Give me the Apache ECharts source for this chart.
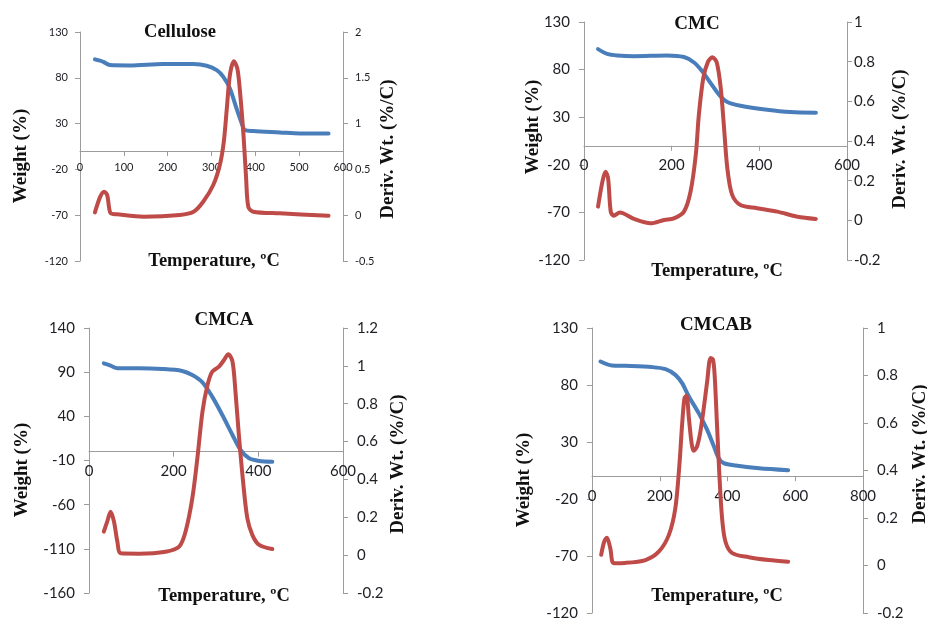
<!DOCTYPE html>
<html>
<head>
<meta charset="utf-8">
<script src="https://cdn.jsdelivr.net/npm/echarts@6/dist/echarts.min.js"></script>
<style>
html,body{margin:0;padding:0;background:#fff;}
#chart{width:927px;height:619px;}
</style>
</head>
<body>
<div id="chart"></div>
<script>
// ---------------- DATA ----------------
const panelTitles = ['Cellulose', 'CMC', 'CMCA', 'CMCAB'];
const xTitle = 'Temperature, ºC';
const yLeftTitle = 'Weight (%)';
const yRightTitle = 'Deriv. Wt. (%/C)';

// Cellulose
const celluloseWeightT = [34, 53, 68, 114, 190, 259, 289, 312, 327, 342, 357, 369, 376, 395, 456, 502, 567];
const celluloseWeight  = [100.1, 97.5, 93.9, 93.5, 95, 95, 93.2, 88.4, 81.1, 68.4, 46.6, 30.2, 22.9, 21.8, 20.4, 19.3, 19.3];
const celluloseDerivT  = [34, 46, 55, 62, 70, 84, 145, 228, 259, 281, 304, 319, 328, 335, 342, 351, 359, 365, 373, 379, 384, 395, 456, 567];
const celluloseDeriv   = [0.03, 0.20, 0.257, 0.22, 0.02, 0.01, -0.016, 0.003, 0.038, 0.147, 0.33, 0.548, 0.80, 1.167, 1.53, 1.68, 1.60, 1.35, 0.875, 0.40, 0.09, 0.038, 0.02, -0.006];

// CMC
const cmcWeightT = [32, 53, 76, 114, 190, 228, 251, 270, 289, 308, 327, 357, 418, 471, 529];
const cmcWeight  = [101.5, 96.6, 94.9, 94.1, 94.9, 93.2, 87.5, 78.1, 65.8, 53.6, 45.9, 42, 37.8, 35.4, 34.7];
const cmcDerivT  = [32, 42, 49, 55, 61, 68, 82, 114, 152, 183, 205, 228, 243, 255, 262, 272, 283, 293, 303, 312, 319, 327, 338, 357, 395, 441, 487, 529];
const cmcDeriv   = [0.069, 0.195, 0.245, 0.211, 0.044, 0.023, 0.040, 0.007, -0.015, 0.002, 0.01, 0.044, 0.144, 0.33, 0.531, 0.716, 0.80, 0.822, 0.795, 0.666, 0.481, 0.262, 0.128, 0.077, 0.061, 0.044, 0.018, 0.007];

// CMCA
const cmcaWeightT = [35, 51, 67, 118, 173, 220, 244, 268, 291, 315, 339, 358, 378, 402, 433];
const cmcaWeight  = [100, 97.4, 94.4, 94.4, 93.6, 91.4, 86.8, 78.5, 62.3, 41.5, 18.9, 1.9, -7.5, -10.5, -11.3];
const cmcaDerivT  = [35, 43, 51, 59, 67, 75, 118, 181, 213, 228, 244, 256, 268, 280, 291, 307, 319, 329, 339, 346, 354, 364, 374, 386, 402, 433];
const cmcaDeriv   = [0.124, 0.177, 0.229, 0.177, 0.071, 0.01, 0.008, 0.018, 0.045, 0.124, 0.30, 0.512, 0.758, 0.899, 0.969, 0.996, 1.031, 1.061, 1.023, 0.863, 0.635, 0.388, 0.195, 0.106, 0.054, 0.032];

// CMCAB
const cmcabWeightT = [25, 59, 98, 177, 217, 246, 266, 286, 315, 340, 360, 374, 389, 424, 493, 579];
const cmcabWeight  = [100.6, 97.1, 96.8, 95.7, 93.9, 88.9, 81.6, 69.9, 55.3, 40.6, 26, 15.8, 11.4, 9.3, 7, 5.3];
const cmcabDerivT  = [27, 36, 44, 54, 64, 98, 158, 197, 227, 246, 258, 266, 273, 279, 286, 294, 300, 310, 320, 330, 340, 350, 357, 362, 369, 376, 384, 394, 414, 463, 522, 579];
const cmcabDeriv   = [0.045, 0.10, 0.117, 0.073, 0.01, 0.011, 0.023, 0.058, 0.129, 0.241, 0.424, 0.593, 0.705, 0.715, 0.621, 0.515, 0.483, 0.501, 0.564, 0.663, 0.775, 0.874, 0.867, 0.803, 0.593, 0.382, 0.199, 0.10, 0.052, 0.035, 0.023, 0.016];

// axis ranges (tick labels)
const xRanges      = [[0, 600, 100], [0, 600, 200], [0, 600, 200], [0, 800, 200]];
const weightRanges = [[-120, 130, 50], [-120, 130, 50], [-160, 140, 50], [-120, 130, 50]];
const derivRanges  = [[-0.5, 2, 0.5], [-0.2, 1, 0.2], [-0.2, 1.2, 0.2], [-0.2, 1, 0.2]];

// ---------------- LAYOUT ----------------
const seriesData = [
  [celluloseWeightT, celluloseWeight, celluloseDerivT, celluloseDeriv],
  [cmcWeightT, cmcWeight, cmcDerivT, cmcDeriv],
  [cmcaWeightT, cmcaWeight, cmcaDerivT, cmcaDeriv],
  [cmcabWeightT, cmcabWeight, cmcabDerivT, cmcabDeriv]
];
const layout = [
  {grid:{left:80, top:32, width:263, height:229}, fs:11, lm:12, rm:12, xm:11,
   title:[180,32,18.5], wl:[21,156], dr:[388,149], tt:[214,261]},
  {grid:{left:584, top:22, width:263, height:238}, fs:15, lm:14, rm:7, xm:12,
   title:[697,24,19], wl:[533,127], dr:[900,139], tt:[717,271]},
  {grid:{left:89, top:328, width:254, height:265}, fs:15, lm:14, rm:14, xm:12,
   title:[224,320,19], wl:[22,470], dr:[398,464], tt:[224,596]},
  {grid:{left:592, top:328, width:271, height:285}, fs:15, lm:14, rm:14, xm:12,
   title:[716,325,19], wl:[524,480], dr:[920,454], tt:[717,596]}
];

const BLUE = '#4a7ebb', RED = '#be4b48', AXIS = '#9c9c9c', LABEL = '#1e1e24';
const zip = (a, b) => a.map((v, i) => [v, b[i]]);

const grids = [], xAxes = [], yAxes = [], series = [], graphics = [];
layout.forEach((L, i) => {
  grids.push(Object.assign({containLabel:false, outerBoundsMode:'none'}, L.grid));
  const lbl = (m) => ({fontFamily:'Lato', fontSize:L.fs, color:LABEL, margin:m, showMinLabel:true, showMaxLabel:true});
  // x axis crosses the weight axis at 0: shift it up from the grid bottom by the scale position of zero
  const wr = weightRanges[i];
  const zeroOffset = -L.grid.height * (0 - wr[0]) / (wr[1] - wr[0]);
  xAxes.push({
    type:'value', gridIndex:i, position:'bottom', offset:zeroOffset,
    min:xRanges[i][0], max:xRanges[i][1], interval:xRanges[i][2],
    axisLine:{show:true, onZero:false, lineStyle:{color:AXIS, width:1}},
    axisTick:{show:true, inside:false, length:5, lineStyle:{color:AXIS}},
    axisLabel:lbl(L.xm), splitLine:{show:false}
  });
  yAxes.push({
    type:'value', gridIndex:i, position:'left', min:wr[0], max:wr[1], interval:wr[2],
    axisLine:{show:true, onZero:false, lineStyle:{color:AXIS, width:1}},
    axisTick:{show:true, inside:false, length:5, lineStyle:{color:AXIS}},
    axisLabel:lbl(L.lm), splitLine:{show:false}
  });
  yAxes.push({
    type:'value', gridIndex:i, position:'right', min:derivRanges[i][0], max:derivRanges[i][1], interval:derivRanges[i][2],
    axisLine:{show:true, onZero:false, lineStyle:{color:AXIS, width:1}},
    axisTick:{show:true, inside:false, length:5, lineStyle:{color:AXIS}},
    axisLabel:lbl(L.rm), splitLine:{show:false}
  });
  const d = seriesData[i];
  series.push({
    type:'line', name:yLeftTitle, xAxisIndex:i, yAxisIndex:2*i, data:zip(d[0], d[1]),
    smooth:0.3, showSymbol:false, symbol:'none',
    lineStyle:{color:BLUE, width:4, cap:'round', join:'round'}, animation:false, z:2
  });
  series.push({
    type:'line', name:yRightTitle, xAxisIndex:i, yAxisIndex:2*i+1, data:zip(d[2], d[3]),
    smooth:0.3, showSymbol:false, symbol:'none',
    lineStyle:{color:RED, width:4, cap:'round', join:'round'}, animation:false, z:3
  });
  const tfont = (s) => ({fontFamily:'"Liberation Serif", serif', fontWeight:'bold', fontSize:s, fill:'#111'});
  graphics.push({type:'text', x:L.title[0], y:L.title[1],
    style:Object.assign({text:panelTitles[i], align:'center', verticalAlign:'middle'}, tfont(L.title[2]))});
  graphics.push({type:'text', x:L.wl[0], y:L.wl[1], rotation:Math.PI/2,
    style:Object.assign({text:yLeftTitle, align:'center', verticalAlign:'middle'}, tfont(19))});
  graphics.push({type:'text', x:L.dr[0], y:L.dr[1], rotation:Math.PI/2,
    style:Object.assign({text:yRightTitle, align:'center', verticalAlign:'middle'}, tfont(19))});
  graphics.push({type:'text', x:L.tt[0], y:L.tt[1],
    style:Object.assign({text:xTitle, align:'center', verticalAlign:'middle'}, tfont(18.5))});
});

const chart = echarts.init(document.getElementById('chart'), null, {renderer:'canvas'});
chart.setOption({
  animation:false,
  backgroundColor:'#ffffff',
  grid:grids, xAxis:xAxes, yAxis:yAxes, series:series, graphic:graphics
});
</script>
</body>
</html>
